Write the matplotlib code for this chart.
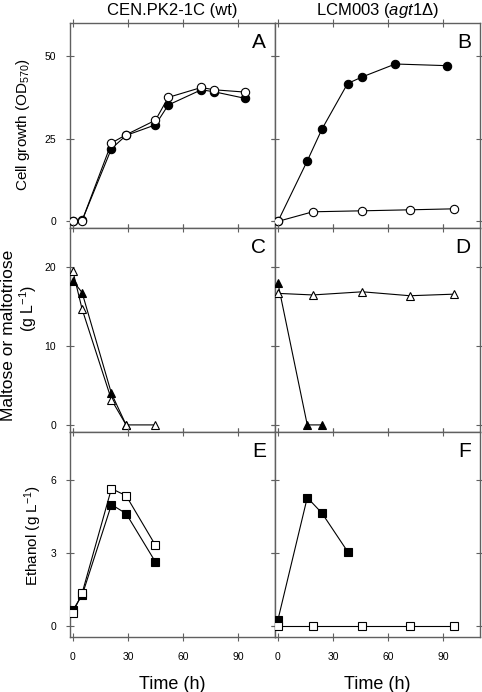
import matplotlib
matplotlib.use("Agg")
import matplotlib.pyplot as plt

plt.rcParams['font.family'] = ['Liberation Sans', 'DejaVu Sans']
plt.rcParams['mathtext.fontset'] = 'custom'
plt.rcParams['mathtext.rm'] = 'Liberation Sans'
plt.rcParams['mathtext.it'] = 'Liberation Sans:italic'

# Panel A: CEN.PK2-1C cell growth
a_filled_t = [0, 5, 21, 29, 45, 52, 70, 77, 94]
a_filled_y = [0, 0.3, 22.0, 26.0, 29.2, 35.2, 39.8, 39.2, 37.2]
a_open_t = [0, 5, 21, 29, 45, 52, 70, 77, 94]
a_open_y = [0, 0.2, 23.7, 26.2, 30.6, 37.5, 40.5, 39.8, 39.1]

# Panel B: LCM003 cell growth
b_filled_t = [0, 16, 24, 38, 46, 64, 92]
b_filled_y = [0, 18.3, 27.9, 41.7, 43.7, 47.6, 47.1]
b_open_t = [0, 19, 46, 72, 96]
b_open_y = [0, 2.9, 3.2, 3.5, 3.8]

# Panel C: CEN.PK2-1C maltose / maltotriose
c_filled_t = [0, 5, 21, 29]
c_filled_y = [18.3, 16.8, 4.0, 0]
c_open_t = [0, 5, 21, 29, 45]
c_open_y = [19.5, 14.7, 3.2, 0, 0]

# Panel D: LCM003 maltose / maltotriose
d_filled_t = [0, 16, 24]
d_filled_y = [18.0, 0, 0]
d_open_t = [0, 19, 46, 72, 96]
d_open_y = [16.7, 16.5, 16.9, 16.4, 16.6]

# Panel E: CEN.PK2-1C ethanol
e_filled_t = [0, 5, 21, 29, 45]
e_filled_y = [0.65, 1.25, 5.0, 4.63, 2.63]
e_open_t = [0, 5, 21, 29, 45]
e_open_y = [0.54, 1.34, 5.66, 5.37, 3.32]

# Panel F: LCM003 ethanol
f_filled_t = [0, 16, 24, 38]
f_filled_y = [0.24, 5.29, 4.65, 3.06]
f_open_t = [0, 19, 46, 72, 96]
f_open_y = [0, 0, 0, 0, 0]

W, H = 482, 692
fig = plt.figure(figsize=(W / 100, H / 100), dpi=100)

cols = [70, 275]
rows = [(23, 228), (228, 432), (432, 637)]
pw = 205

panels = [
    ("A", a_filled_t, a_filled_y, a_open_t, a_open_y, "o", 6.0),
    ("B", b_filled_t, b_filled_y, b_open_t, b_open_y, "o", 6.0),
    ("C", c_filled_t, c_filled_y, c_open_t, c_open_y, "^", 6.0),
    ("D", d_filled_t, d_filled_y, d_open_t, d_open_y, "^", 6.0),
    ("E", e_filled_t, e_filled_y, e_open_t, e_open_y, "s", 5.5),
    ("F", f_filled_t, f_filled_y, f_open_t, f_open_y, "s", 5.5),
]
ylims = [(-2, 60), (-0.9, 25), (-0.47, 8.0)]
yticks = [[0, 25, 50], [0, 10, 20], [0, 3, 6]]
frame_col = "#606060"

axes = []
for i, (letter, ft, fy, ot, oy, mk, ms) in enumerate(panels):
    r, c = divmod(i, 2)
    top, bot = rows[r]
    ax = fig.add_axes([cols[c] / W, 1 - bot / H, pw / W, (bot - top) / H])
    axes.append(ax)
    ax.plot(ft, fy, color="black", lw=0.8, marker=mk, ms=ms,
            mfc="black", mec="black", mew=0.8, zorder=3)
    ax.plot(ot, oy, color="black", lw=0.8, marker=mk, ms=ms,
            mfc="white", mec="black", mew=0.8, zorder=4)
    ax.set_xlim(-1.6, 110.2)
    ax.set_ylim(*ylims[r])
    ax.set_xticks([0, 30, 60, 90])
    ax.set_yticks(yticks[r])
    for s in ax.spines.values():
        s.set_color(frame_col)
        s.set_linewidth(1.0)
    ax.tick_params(direction="inout", length=6, width=0.8, color=frame_col,
                   labelsize=7.5, top=True, right=True)
    ax.tick_params(axis="x", pad=8)
    ax.tick_params(axis="y", pad=7)
    if r < 2:
        ax.tick_params(labelbottom=False)
    if c == 1:
        ax.tick_params(labelleft=False)
    ax.text(0.955, 0.95, letter, transform=ax.transAxes, ha="right", va="top",
            fontsize=15)

axes[0].set_title("CEN.PK2-1C (wt)", fontsize=12, pad=6)
axes[1].set_title(r"LCM003 ($\it{agt1}\Delta$)", fontsize=12, pad=6)

# y labels placed by pixel position
def ylab(x, y, s, size=10.5):
    fig.text(x / W, 1 - y / H, s, rotation=90, ha="center", va="center",
             fontsize=size)

ylab(23, 125, "Cell growth (OD$_{570}$)", 11)
ylab(9, 335, "Maltose or maltotriose", 12.5)
ylab(28, 308, "(g L$^{-1}$)", 11.5)
ylab(33, 535, "Ethanol (g L$^{-1}$)", 11)

axes[4].set_xlabel("Time (h)", fontsize=13, labelpad=10)
axes[5].set_xlabel("Time (h)", fontsize=13, labelpad=10)

fig.savefig("out.png", dpi=100)
